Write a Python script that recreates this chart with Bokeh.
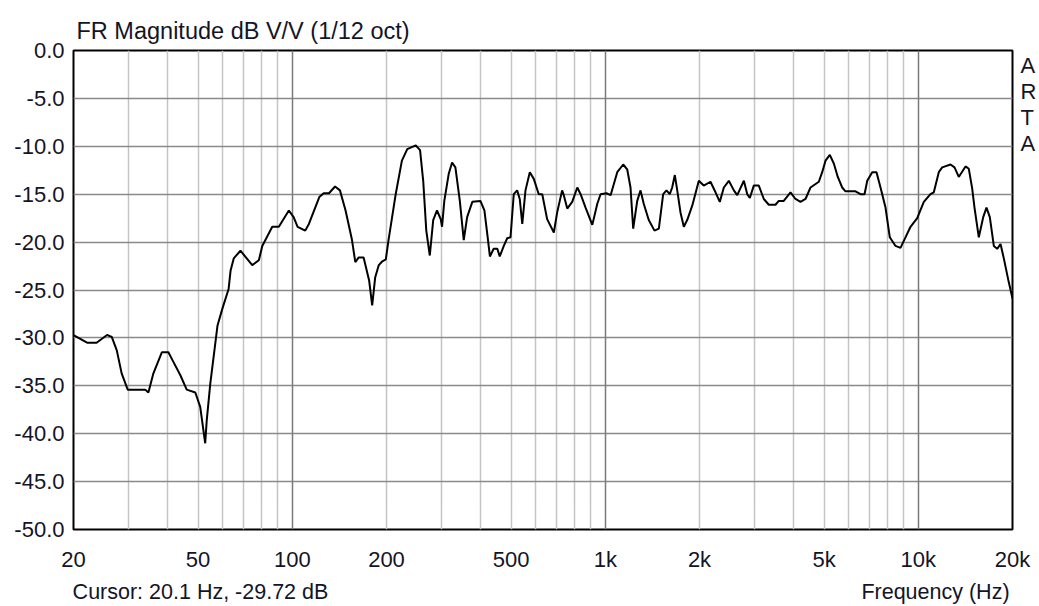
from bokeh.plotting import figure
from bokeh.models import (Range1d, FixedTicker, CustomJSTickFormatter, PrintfTickFormatter, Grid,
                          ColumnDataSource, LogAxis, LinearAxis, Title)
from bokeh.embed import file_html
from bokeh.resources import INLINE

# ---- data ----
freq_hz = [20.0, 22.1, 23.7, 25.6, 26.5, 27.5, 28.5, 29.8, 33.9, 34.7, 36.0, 38.3, 40.2, 41.7, 43.9,
           46.0, 49.0, 50.8, 52.7, 53.3, 54.7, 57.7, 59.6, 62.6, 63.5, 65.0, 68.3, 74.5, 78.2, 80.2,
           86.3, 90.6, 97.5, 101, 104, 110, 113, 122, 126, 131, 137, 142, 148, 155, 159,
           163, 169, 176, 180, 184, 189, 194, 199, 203, 214, 224, 233, 248, 256, 262,
           268, 275, 282, 290, 298, 301, 306, 316, 324, 332, 343, 353, 362, 376, 399,
           411, 421, 428, 440, 452, 460, 474, 486, 498, 510, 523, 533, 543, 556, 574,
           591, 613, 629, 652, 685, 702, 728, 737, 756, 784, 814, 834, 865, 909, 943,
           966, 1009, 1040, 1092, 1141, 1175, 1204, 1228, 1265, 1296, 1327, 1377, 1436, 1483, 1531,
           1569, 1607, 1636, 1668, 1698, 1739, 1782, 1827, 1896, 1990, 2063, 2168, 2250, 2322, 2392,
           2482, 2575, 2640, 2692, 2772, 2842, 2896, 2982, 3094, 3210, 3330, 3498, 3584, 3718, 3906,
           4052, 4204, 4362, 4526, 4812, 4932, 5054, 5216, 5372, 5532, 5714, 5854, 6302, 6538, 6734,
           6870, 7126, 7354, 7574, 7858, 8110, 8458, 8774, 9102, 9444, 9922, 10416, 10940, 11210, 11630,
           11926, 12676, 13054, 13472, 14152, 14502, 14866, 15122, 15608, 16122, 16520, 16926, 17432, 17872, 18314,
           18762, 19464, 20000]
mag_db = [-29.7, -30.5, -30.5, -29.7, -29.9, -31.3, -33.7, -35.4, -35.4, -35.7, -33.7, -31.5, -31.5, -32.5, -33.9,
          -35.4, -35.7, -37.2, -41.0, -38.6, -34.8, -28.7, -27.1, -24.9, -23.0, -21.7, -20.9, -22.4, -21.9, -20.4,
          -18.4, -18.4, -16.7, -17.4, -18.4, -18.8, -18.1, -15.3, -14.9, -14.9, -14.2, -14.6, -16.7, -19.7, -22.1,
          -21.6, -21.6, -24.0, -26.6, -23.7, -22.4, -22.0, -21.8, -19.8, -15.0, -11.5, -10.3, -9.9, -10.4, -13.6,
          -18.8, -21.4, -17.7, -16.7, -17.6, -18.4, -15.7, -12.9, -11.7, -12.2, -15.7, -19.8, -17.4, -15.8, -15.7,
          -16.7, -19.5, -21.5, -20.7, -20.7, -21.5, -20.4, -19.6, -19.5, -15.0, -14.6, -15.5, -18.1, -14.6, -12.7,
          -13.4, -15.0, -15.0, -17.6, -19.0, -16.9, -14.6, -15.1, -16.5, -15.8, -14.3, -15.0, -16.4, -18.2, -16.0,
          -15.0, -14.9, -15.1, -12.7, -11.9, -12.4, -14.3, -18.6, -15.7, -14.6, -16.0, -17.7, -18.8, -18.6, -15.0,
          -14.6, -15.0, -14.3, -13.0, -14.6, -16.9, -18.4, -17.7, -16.2, -13.6, -14.1, -13.7, -14.8, -15.8, -14.3,
          -13.6, -14.6, -15.1, -14.5, -13.6, -15.0, -15.4, -14.1, -14.1, -15.5, -16.1, -16.1, -15.7, -15.7, -14.8,
          -15.5, -15.8, -15.5, -14.3, -13.7, -12.7, -11.5, -10.9, -11.8, -13.2, -14.3, -14.7, -14.7, -15.0, -15.0,
          -13.6, -12.7, -12.7, -14.3, -16.4, -19.5, -20.4, -20.6, -19.5, -18.4, -17.5, -15.8, -15.0, -14.8, -12.7,
          -12.2, -11.9, -12.2, -13.2, -12.1, -12.35, -14.4, -16.4, -19.5, -17.4, -16.4, -17.4, -20.4, -20.7, -20.2,
          -21.7, -24.2, -25.9]

x_tick_values = [20, 50, 100, 200, 500, 1000, 2000, 5000, 10000, 20000]
x_minor_grid = [30, 40, 50, 60, 70, 80, 90, 200, 300, 400, 500, 600, 700, 800, 900,
                2000, 3000, 4000, 5000, 6000, 7000, 8000, 9000]
x_major_grid = [100, 1000, 10000]
y_tick_values = [0, -5, -10, -15, -20, -25, -30, -35, -40, -45, -50]
y_grid_values = [-5, -10, -15, -20, -25, -30, -35, -40, -45]

title_text = "FR Magnitude dB V/V (1/12 oct)"
cursor_text = "Cursor: 20.1 Hz, -29.72 dB"
xlabel_text = "Frequency (Hz)"
brand_letters = ["A", "R", "T", "A"]

# layout anchors (where the bottom texts / side letters sit)
bottom_text_anchor_hz = [50.9, 11350]
brand_anchor_db = [-1.57, -4.28, -6.99, -9.71]

FONT = "Liberation Sans"
TXT = "#141428"
FS = "22px"

p = figure(width=1039, height=606, x_axis_type="log",
           x_range=Range1d(20, 20000), y_range=Range1d(-50, 0),
           output_backend="svg", toolbar_location=None,
           min_border_left=73, min_border_right=27, min_border_top=50, min_border_bottom=77)
p.background_fill_color = "white"
p.border_fill_color = "white"
p.outline_line_color = "black"
p.outline_line_width = 2

# title above the frame
p.add_layout(Title(text=title_text, align="left", offset=3, standoff=13,
                   text_font=FONT, text_font_size="23.5px", text_font_style="normal",
                   text_color=TXT), "above")

# main axes
p.xaxis.ticker = FixedTicker(ticks=x_tick_values)
p.xaxis.formatter = CustomJSTickFormatter(code="return tick >= 1000 ? (tick/1000) + 'k' : tick.toFixed(0);")
p.yaxis.ticker = FixedTicker(ticks=y_tick_values)
p.yaxis.formatter = PrintfTickFormatter(format="%.1f")
p.xaxis.major_label_standoff = 17
p.yaxis.major_label_standoff = 9

# second row below: cursor readout and axis name
bottom_axis = LogAxis(ticker=FixedTicker(ticks=bottom_text_anchor_hz),
                      formatter=CustomJSTickFormatter(
                          args=dict(a=cursor_text, b=xlabel_text),
                          code="return tick < 1000 ? a : b;"),
                      major_label_standoff=5)
p.add_layout(bottom_axis, "below")

# brand letters on the right
brand_axis = LinearAxis(ticker=FixedTicker(ticks=brand_anchor_db),
                        formatter=CustomJSTickFormatter(
                            args=dict(letters=brand_letters, anchors=brand_anchor_db),
                            code="""
let best = 0, bd = 1e9;
for (let i = 0; i < anchors.length; i++) { const d = Math.abs(anchors[i] - tick); if (d < bd) { bd = d; best = i; } }
return letters[best];"""),
                        major_label_standoff=8)
p.add_layout(brand_axis, "right")

for ax in (p.xaxis[0], p.yaxis[0], bottom_axis, brand_axis):
    ax.axis_line_color = None
    ax.major_tick_line_color = None
    ax.minor_tick_line_color = None
    ax.major_tick_out = 0
    ax.major_tick_in = 0
    ax.minor_tick_out = 0
    ax.minor_tick_in = 0
    ax.major_label_text_font = FONT
    ax.major_label_text_font_size = FS
    ax.major_label_text_color = TXT
bottom_axis.major_label_text_font_size = "21.5px"

# grids
p.xgrid.ticker = FixedTicker(ticks=x_minor_grid)
p.xgrid.grid_line_color = "#c4c4c4"
p.xgrid.grid_line_width = 1.5
p.ygrid.ticker = FixedTicker(ticks=y_grid_values)
p.ygrid.grid_line_color = "#8a8a8a"
p.ygrid.grid_line_width = 1.5
p.add_layout(Grid(dimension=0, ticker=FixedTicker(ticks=x_major_grid),
                  grid_line_color="#7a7a7a", grid_line_width=1.5))

# curve
src = ColumnDataSource(data=dict(f=freq_hz, db=mag_db))
p.line("f", "db", source=src, line_color="black", line_width=2)

open("out.html", "w").write(file_html(p, INLINE))
